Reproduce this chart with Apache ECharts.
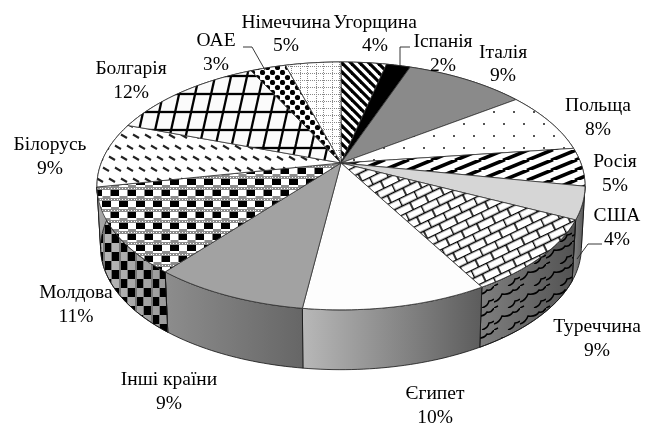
<!DOCTYPE html>
<html><head><meta charset="utf-8">
<style>html,body{margin:0;padding:0;background:#fff}#c{width:661px;height:425px}</style>
<script src="https://cdn.jsdelivr.net/npm/echarts@6/dist/echarts.min.js"></script>
</head><body><div id="c"></div>
<script>
// --- data, clockwise from 12 o'clock ---
const categories = ['Угорщина','Іспанія','Італія','Польща','Росія','США','Туреччина','Єгипет','Інші країни','Молдова','Білорусь','Болгарія','ОАЕ','Німеччина'];
const shares = [3.6,1.9,9.5,8.0,5.0,4.2,9.6,10.3,8.7,11.1,8.5,12.4,2.8,4.4];
const percentLabels = ['4%','2%','9%','8%','5%','4%','9%','10%','9%','11%','9%','12%','3%','5%'];
// --- layout ---
const labelCenters = [[375,34.5],[443,54],[503,64.5],[598,118],[615,174],[617,228],[597,339],[435,406],[169,392],[76,305],[50,157],[131,81],[216,53],[286,34.5]];
const leaders = [[[243,47],[252,47],[265,70]],[[400,66],[400,47],[410,47]],[[602,244],[588,244],[577,259]]];
const CX=341, CY=163, AX=239.8, BY=119.7, K=0.185, DROP=62, BOTTOM_SCALE=0.985;

function tile(w,h,draw){const c=document.createElement('canvas');c.width=w;c.height=h;const g=c.getContext('2d');draw(g,w,h);return c;}
function bg(g,w,h,col){g.fillStyle=col;g.fillRect(0,0,w,h);}
function line(g,x1,y1,x2,y2){g.beginPath();g.moveTo(x1,y1);g.lineTo(x2,y2);g.stroke();}
function hatch(w,h,lw,down){return {image:tile(w,h,(g)=>{bg(g,w,h,'#fff');g.strokeStyle='#000';g.lineWidth=lw;
  for(let i=-1;i<=1;i++){ if(down) line(g,i*w-1,-h/w,i*w+w+1,h+h/w); else line(g,i*w-1,h+h/w,i*w+w+1,-h/w);} }),repeat:'repeat'};}
const fills = [
  hatch(9,9,3.2,true),
  '#000000',
  '#8a8a8a',
  {image:tile(20,24,(g)=>{bg(g,20,24,'#fff');g.fillStyle='#555';g.fillRect(3,3,2,2);g.fillRect(13,15,2,2);}),repeat:'repeat'},
  hatch(24,10,3.6,false),
  '#d6d6d6',
  {image:tile(17,16,(g)=>{bg(g,17,16,'#fff');g.strokeStyle='#000';g.lineWidth=1.6;line(g,0,0.5,17,0.5);line(g,0,8.5,17,8.5);line(g,0.5,0,0.5,8);line(g,9,8,9,16);}),repeat:'repeat',rotation:-0.45},
  '#fdfdfd',
  '#a2a2a2',
  {image:tile(17,44,(g)=>{bg(g,17,44,'#fff');
     for(let r=0;r<4;r++){const y=r*11,off=r%2?8.5:0;
       g.fillStyle='#8c8c8c';g.fillRect(0,y,17,3);
       g.fillStyle='#fff';for(let x=0;x<17;x+=3)g.fillRect(x,y+1,1,1);
       g.fillStyle='#000';g.fillRect(off,y+3,9,6);
       g.fillStyle='#8c8c8c';g.fillRect(off+9>17?off-8:off+9,y+9,8,2);
     }
     }),repeat:'repeat'},
  {image:tile(12,22,(g)=>{bg(g,12,22,'#fff');g.strokeStyle='#222';g.lineWidth=2.1;line(g,1,2.5,7,6);line(g,7,13.5,13,17);line(g,-5,13.5,1,17);}),repeat:'repeat'},
  {image:tile(16,72,(g)=>{bg(g,16,72,'#fbfbfb');g.strokeStyle='#000';g.lineWidth=2.3;for(let y=4;y<72;y+=18)line(g,0,y,16,y);
     for(let i=-1;i<=1;i++)line(g,8+i*16+16,0,8+i*16,72);}),repeat:'repeat'},
  {image:tile(10,10,(g)=>{bg(g,10,10,'#fff');g.fillStyle='#000';for(const [x,y] of [[2.5,2.5],[7.5,7.5]]){g.beginPath();g.arc(x,y,2.6,0,7);g.fill();}}),repeat:'repeat'},
  {image:tile(16,14,(g)=>{bg(g,16,14,'#fff');g.strokeStyle='#888';g.lineWidth=1;g.setLineDash([1,1]);line(g,0,3.5,16,3.5);line(g,0,10.5,16,10.5);line(g,3.5,0,3.5,14);line(g,12.5,0,12.5,14);}),repeat:'repeat'}
];
const sideGrad = [['#aaa','#888'],['#333','#000'],['#999','#666'],['#aaa','#888'],['#888','#666'],['#888','#555'],['#7f7f7f','#525252'],['#b8b8b8','#5c5c5c'],['#8d8d8d','#666666'],['#bbb','#999'],['#aaa','#888'],['#aaa','#888'],['#aaa','#888'],['#aaa','#888']];
const sidePatterns = {
  6:{image:tile(26,22,(g)=>{g.strokeStyle='#000';g.lineWidth=1.5;g.beginPath();g.moveTo(0,16);g.quadraticCurveTo(6,14,8,8);g.quadraticCurveTo(16,9,19,4);g.quadraticCurveTo(23,5,26,0);g.stroke();
       g.beginPath();g.moveTo(0,22);g.lineTo(4,20);g.moveTo(14,22);g.quadraticCurveTo(20,20,21,15);g.quadraticCurveTo(24,15,26,13);g.stroke();}),repeat:'repeat'},
  9:{image:tile(16,18,(g)=>{g.fillStyle='#000';g.fillRect(0,0,8,9);g.fillRect(8,9,8,9);g.fillStyle='#777';g.fillRect(7,0,2,18);g.fillRect(15,0,1,18);}),repeat:'repeat'}
};

const total = shares.reduce((a,b)=>a+b,0);
let running = 0;
const sliceData = shares.map((s,i)=>{const d=[running,running+s,i];running+=s;return d;});

function project(frac,bottom){
  const t=frac/total*2*Math.PI, u=Math.sin(t), v=Math.cos(t), d=1+K*v, s=bottom?BOTTOM_SCALE:1;
  return [CX+s*AX*u/d, CY-s*BY*v/d+(bottom?DROP:0)];
}
function rimPts(a,b,bottom){const n=Math.max(4,Math.ceil((b-a)*3)),p=[];for(let i=0;i<=n;i++)p.push(project(a+(b-a)*i/n,bottom));return p;}

function renderSide(params,api){
  const a=api.value(0),b=api.value(1),i=api.value(2);
  const pts=rimPts(a,b,false).concat(rimPts(a,b,true).reverse());
  const g=sideGrad[i];
  const kids=[{type:'polygon',shape:{points:pts},style:{fill:new echarts.graphic.LinearGradient(0,0,1,0,[{offset:0,color:g[0]},{offset:1,color:g[1]}]),stroke:'#111',lineWidth:0.8}}];
  if(sidePatterns[i])kids.push({type:'polygon',shape:{points:pts},style:{fill:sidePatterns[i],stroke:'#111',lineWidth:0.8}});
  return {type:'group',children:kids};
}
function renderTop(params,api){
  const a=api.value(0),b=api.value(1),i=api.value(2);
  return {type:'polygon',shape:{points:[[CX,CY]].concat(rimPts(a,b,false))},style:{fill:fills[i],stroke:'#333',lineWidth:0.8}};
}
function renderLabel(params,api){
  const i=api.value(0);
  return {type:'text',x:labelCenters[i][0],y:labelCenters[i][1],style:{text:categories[i]+'\n'+percentLabels[i],fill:'#000',font:'19.5px "Liberation Serif"',lineHeight:23.5,align:'center',verticalAlign:'middle'}};
}
const chart=echarts.init(document.getElementById('c'),null,{renderer:'canvas'});
chart.setOption({
  animation:false,backgroundColor:'#fff',
  tooltip:{show:false},
  graphic:leaders.map(p=>({type:'polyline',z:5,shape:{points:p},style:{stroke:'#222',lineWidth:0.9,fill:null},silent:true})),
  series:[
    {type:'custom',coordinateSystem:'none',silent:true,z:1,data:sliceData,renderItem:renderSide},
    {type:'custom',coordinateSystem:'none',silent:true,z:2,data:sliceData,renderItem:renderTop},
    {type:'custom',coordinateSystem:'none',silent:true,z:3,data:categories.map((c,i)=>[i]),renderItem:renderLabel}
  ]
});
</script></body></html>
